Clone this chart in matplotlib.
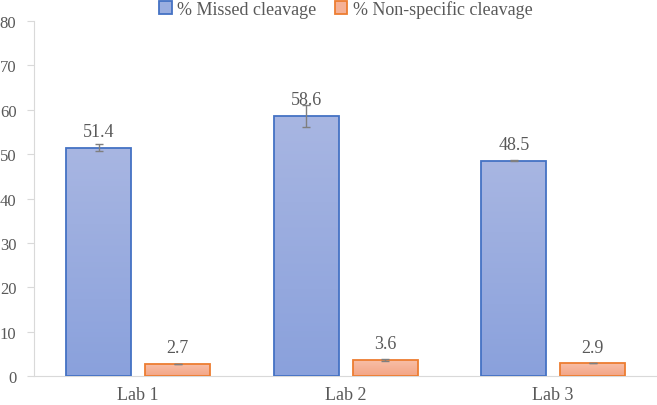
import numpy as np
import matplotlib.pyplot as plt
from matplotlib.colors import LinearSegmentedColormap

labs = ['Lab 1', 'Lab 2', 'Lab 3']
missed = [51.4, 58.6, 48.5]
missed_err = [0.8, 2.5, 0.1]
nonspec = [2.7, 3.6, 2.9]
nonspec_err = [0.05, 0.2, 0.05]

plt.rcParams['font.family'] = ['Liberation Serif', 'DejaVu Serif']
txt = '#595959'

fig = plt.figure(figsize=(6.57, 4.06), dpi=100)
ax = fig.add_axes([0.0525, 0.0714, 0.9475, 0.8744])

x = np.arange(len(labs))
w = 0.313
off = 0.19

blue_cm = LinearSegmentedColormap.from_list('b', ['#8aa1dc', '#a8b6e2'])
orng_cm = LinearSegmentedColormap.from_list('o', ['#f3a586', '#f8bea6'])

def grad_bars(xs, vals, cmap, edge, label):
    bars = ax.bar(xs, vals, w, color='none', edgecolor=edge, linewidth=1.3, label=label, zorder=3)
    for b in bars:
        x0, y0 = b.get_x(), b.get_y()
        x1, y1 = x0 + b.get_width(), y0 + b.get_height()
        im = ax.imshow(np.linspace(0, 1, 100).reshape(-1, 1), cmap=cmap, origin='lower',
                       extent=[x0, x1, y0, y1], aspect='auto', zorder=2)
        im.set_clip_path(b)
    return bars

b1 = grad_bars(x - off, missed, blue_cm, '#4472c4', '% Missed cleavage')
b2 = grad_bars(x + off, nonspec, orng_cm, '#ed7d31', '% Non-specific cleavage')
ax.errorbar(x - off, missed, yerr=missed_err, fmt='none', ecolor='#7f7f7f', capsize=3, lw=1, zorder=4)
ax.errorbar(x + off, nonspec, yerr=nonspec_err, fmt='none', ecolor='#7f7f7f', capsize=3, lw=1, zorder=4)

for xi, v in zip(x - off, missed):
    ax.text(xi, v + 1.7, f'{v}', ha='center', va='bottom', fontsize=13, color=txt)
for xi, v in zip(x + off, nonspec):
    ax.text(xi, v + 1.7, f'{v}', ha='center', va='bottom', fontsize=13, color=txt)

ax.set_xlim(-0.5, 2.5)
ax.set_ylim(0, 80)
ax.set_yticks(range(0, 81, 10))
ax.set_xticks(x)
ax.set_xticklabels(labs)
ax.tick_params(axis='x', length=0, labelsize=13, labelcolor=txt, pad=7)
ax.tick_params(axis='y', length=5, color='#d9d9d9', labelsize=12, labelcolor=txt, pad=8)
for s in ['top', 'right']:
    ax.spines[s].set_visible(False)
ax.spines['left'].set_color('#d9d9d9')
ax.spines['bottom'].set_color('#d9d9d9')

leg = ax.legend(loc='upper center', bbox_to_anchor=(0.5, 1.06), ncol=2, frameon=False,
                fontsize=13, handlelength=0.7, handleheight=0.7, handletextpad=0.3,
                columnspacing=1.0, labelcolor=txt, borderaxespad=0, borderpad=0)
leg.legend_handles[0].set_facecolor('#9aaee0')
leg.legend_handles[1].set_facecolor('#f5b196')

fig.savefig('out.png', dpi=100)
